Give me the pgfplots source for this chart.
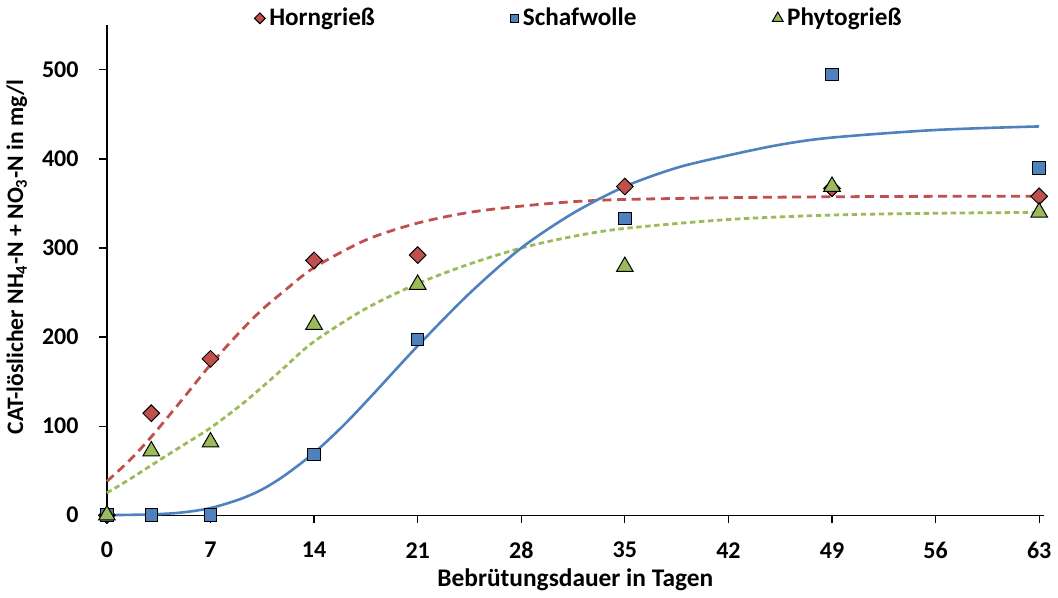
\documentclass[border=0pt]{standalone}
\usepackage{fontspec}
\setmainfont{Carlito}
\usepackage{pgfplots}
\pgfplotsset{compat=1.18}
\definecolor{cred}{HTML}{C0504D}
\definecolor{cblue}{HTML}{4F81BD}
\definecolor{cgreen}{HTML}{9BBB59}
\begin{document}
\begin{tikzpicture}
\begin{axis}[
  scale only axis, width=468.5pt, height=245pt,
  xmin=0, xmax=63.3, ymin=0, ymax=550,
  axis x line=bottom, axis y line=left,
  axis line style={-, line width=0.6pt, black},
  xtick={0,7,...,63}, ytick={0,100,...,500},
  tick align=outside, major tick length=4pt,
  tick style={line width=0.6pt, black},
  minor tick num=0,
  /pgf/number format/assume math mode=true,
  ticklabel style={font=\bfseries\fontsize{12}{14}\selectfont},
  xticklabel style={anchor=center, yshift=-13.5pt},
  yticklabel style={anchor=east, inner sep=0pt, xshift=-10pt},
  xlabel={Bebrütungsdauer in Tagen},
  ylabel={CAT-löslicher NH\textsubscript{4}-N + NO\textsubscript{3}-N in mg/l},
  xlabel style={font=\bfseries\fontsize{12.7}{15}\selectfont, at={(axis description cs:0.5,0)}, anchor=center, yshift=-32.5pt},
  ylabel style={font=\bfseries\fontsize{11.8}{14}\selectfont, at={(axis description cs:0,0.527)}, anchor=center, yshift=45pt},
  clip=false,
  legend columns=3,
  legend style={draw=none, fill=none, at={(0.505,1)}, anchor=center, yshift=3.5pt,
    font=\bfseries\fontsize{12.6}{15}\selectfont,
    /tikz/every even column/.append style={column sep=66pt}},
  legend image code/.code={\draw[#1, /tikz/every mark/.append style={scale=0.65}] plot coordinates {(0.1cm,0cm)};},
]
% fitted curves
\addplot[cred, line width=1.4pt, dash pattern=on 4.5pt off 2.8pt, smooth, forget plot] coordinates {
(0,38) (1.5,61) (3,88) (5,128) (7,169) (9,206) (10.5,231) (12,252) (14,278) (17.5,309) (21,328) (24.5,340) (28,347) (31.5,352) (35,354.5) (42,356.5) (49,357.5) (56,358) (63,358)};
\addplot[cgreen, line width=1.4pt, dash pattern=on 2.7pt off 1.8pt, smooth, forget plot] coordinates {
(0,25) (1.5,40) (3,56) (5,77) (7,98) (9,123) (10.5,144) (12,166) (14,195) (17.5,232) (21,260) (24.5,282) (28,300) (31.5,313) (35,322) (42,332) (49,337) (56,339) (63,340)};
\addplot[cblue, line width=1.3pt, smooth, forget plot] coordinates {
(0,0) (3,0.9) (5,2.9) (7,8) (9,18) (10.5,29) (12,44.5) (14,70) (16,101) (18,136) (21,190) (24.5,249) (28,300) (31.5,339) (35,369) (38.5,390) (42,404) (45.5,416) (49,424) (56,432.5) (63,436.5)};
% measured values
\addplot[only marks, mark=square*, mark size=2.95pt, mark options={rotate=45, fill=cred, draw=black, line width=0.5pt}] coordinates {
(0,0) (3,114.5) (7,175.5) (14,286) (21,292) (35,369) (49,367) (63,358)};
\addlegendentry{Horngrieß}
\addplot[only marks, mark=square*, mark size=3.1pt, mark options={fill=cblue, draw=black, line width=0.5pt}] coordinates {
(0,0) (3,0) (7,0) (14,68) (21,197) (35,333) (49,495) (63,390)};
\addlegendentry{Schafwolle}
\addplot[only marks, mark=triangle*, mark size=4.8pt, mark options={fill=cgreen, draw=black, line width=0.5pt}] coordinates {
(0,0) (3,72) (7,82) (14,214) (21,259) (35,279) (49,369) (63,340)};
\addlegendentry{Phytogrieß}
\end{axis}
\end{tikzpicture}
\end{document}
